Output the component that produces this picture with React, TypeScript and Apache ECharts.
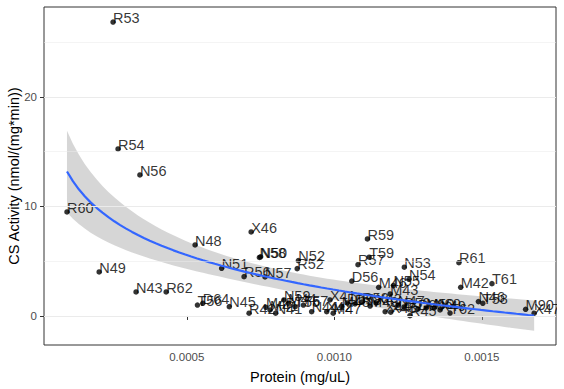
import React, { useEffect, useRef } from "react";
import * as echarts from "echarts";

const sampleIds = [
  "R53", "R54", "N56", "R60", "N48", "X46", "N49", "N43", "R62", "N51",
  "R56", "N57", "N58", "N50", "N52", "R52", "R59", "T59", "R57", "D56",
  "M46", "N55", "N53", "N54", "M43", "R61", "M42", "T61", "T58", "N46",
  "M90", "X47", "T62", "T56", "D64", "N45", "R42", "M45", "M41", "N41",
  "N59", "M44", "T55", "T57", "N44", "X42", "X41", "M47", "M48", "D57",
  "D58", "R58", "M49", "X43", "X44", "X48", "N47", "D59", "R45", "D60",
  "M50", "N60", "X49",
];

const protein = [
  0.000250, 0.000267, 0.000341, 0.000094, 0.000528, 0.000718, 0.000203, 0.000328, 0.000430, 0.000618,
  0.000694, 0.000765, 0.000746, 0.000750, 0.000878, 0.000874, 0.001112, 0.001118, 0.001080, 0.001059,
  0.001150, 0.001200, 0.001237, 0.001253, 0.001189, 0.001422, 0.001428, 0.001534, 0.001503, 0.001488,
  0.001648, 0.001677, 0.001392, 0.000536, 0.000554, 0.000644, 0.000711, 0.000768, 0.000782, 0.000801,
  0.000829, 0.000844, 0.000867, 0.000895, 0.000923, 0.000974, 0.000985, 0.000996, 0.001025, 0.001043,
  0.001070, 0.001094, 0.001121, 0.001141, 0.001172, 0.001191, 0.001216, 0.001236, 0.001256, 0.001283,
  0.001311, 0.001338, 0.001358,
];

const activity = [
  26.83, 15.24, 12.87, 9.49, 6.48, 7.67, 4.02, 2.19, 2.19, 4.35,
  3.59, 3.56, 5.34, 5.40, 5.05, 4.32, 7.03, 5.36, 4.68, 3.19,
  2.62, 2.77, 4.45, 3.35, 2.01, 4.86, 2.62, 2.95, 1.16, 1.31,
  0.61, 0.25, 0.27, 1.00, 1.16, 0.85, 0.25, 0.79, 0.55, 0.25,
  1.46, 1.16, 0.85, 1.00, 0.39, 0.39, 1.46, 0.25, 0.85, 1.19,
  1.10, 1.28, 0.91, 1.19, 0.39, 0.34, 1.00, 0.82, 0.03, 0.64,
  0.73, 0.73, 0.55,
];

const xTickValues = [0.0005, 0.001, 0.0015];
const xMinorGrid = [0.00025, 0.00075, 0.00125];
const yTickValues = [0, 10, 20];
const yMinorGrid = [5, 15, 25];

const xRange = [0.0000161, 0.001751];
const yRange = [-2.65, 28.2];

const FONT = "'Liberation Sans', Arial, Helvetica, sans-serif";

// Linear model y ~ log(x) with 95% confidence band (as geom_smooth does)
function fitLogModel(xs: number[], ys: number[], nOut: number) {
  const n = xs.length;
  const u = xs.map((v) => Math.log(v));
  const uBar = u.reduce((a, b) => a + b, 0) / n;
  const yBar = ys.reduce((a, b) => a + b, 0) / n;
  let sxx = 0;
  let sxy = 0;
  for (let i = 0; i < n; i++) {
    sxx += (u[i] - uBar) ** 2;
    sxy += (u[i] - uBar) * (ys[i] - yBar);
  }
  const b = sxy / sxx;
  const a = yBar - b * uBar;
  let sse = 0;
  for (let i = 0; i < n; i++) sse += (ys[i] - (a + b * u[i])) ** 2;
  const df = n - 2;
  const s = Math.sqrt(sse / df);
  const z = 1.959964;
  const t = z + (z ** 3 + z) / (4 * df) + (5 * z ** 5 + 16 * z ** 3 + 3 * z) / (96 * df * df);
  const xMin = Math.min(...xs);
  const xMax = Math.max(...xs);
  const fx: number[] = [];
  const fy: number[] = [];
  const lo: number[] = [];
  const hi: number[] = [];
  for (let k = 0; k < nOut; k++) {
    const x = xMin + ((xMax - xMin) * k) / (nOut - 1);
    const lu = Math.log(x);
    const yhat = a + b * lu;
    const se = s * Math.sqrt(1 / n + (lu - uBar) ** 2 / sxx);
    fx.push(x);
    fy.push(yhat);
    lo.push(yhat - t * se);
    hi.push(yhat + t * se);
  }
  return { fx, fy, lo, hi };
}

export default function App() {
  const ref = useRef<HTMLDivElement>(null);

  useEffect(() => {
    if (!ref.current) return;
    const chart = echarts.init(ref.current, undefined, { renderer: "svg" });
    const fit = fitLogModel(protein, activity, 80);

    const gridLines: any[] = [];
    xTickValues.forEach((v) => gridLines.push({ xAxis: v, lineStyle: { color: "#EBEBEB", width: 1.1, type: "solid" } }));
    xMinorGrid.forEach((v) => gridLines.push({ xAxis: v, lineStyle: { color: "#EBEBEB", width: 0.55, type: "solid" } }));
    yTickValues.forEach((v) => gridLines.push({ yAxis: v, lineStyle: { color: "#EBEBEB", width: 1.1, type: "solid" } }));
    yMinorGrid.forEach((v) => gridLines.push({ yAxis: v, lineStyle: { color: "#EBEBEB", width: 0.55, type: "solid" } }));

    const points = protein.map((x, i) => ({ value: [x, activity[i]], name: sampleIds[i] }));

    chart.setOption({
      animation: false,
      backgroundColor: "#ffffff",
      textStyle: { fontFamily: FONT },
      grid: {
        left: 44,
        right: 8,
        top: 7,
        bottom: 44,
        containLabel: false,
        outerBoundsMode: "none",
        show: true,
        borderColor: "#333333",
        borderWidth: 1,
        backgroundColor: "transparent",
      },
      graphic: [
        {
          type: "rect",
          left: 557,
          top: 0,
          shape: { x: 0, y: 0, width: 7, height: 389 },
          style: { fill: "#ffffff" },
          z: 100,
          silent: true,
        },
      ],
      xAxis: {
        type: "value",
        min: xRange[0],
        max: xRange[1],
        name: "Protein (mg/uL)",
        nameLocation: "middle",
        nameGap: 24,
        nameTextStyle: { fontSize: 14.5, color: "#000000", fontFamily: FONT },
        axisLine: { show: false },
        splitLine: { show: false },
        axisTick: {
          show: true,
          customValues: xTickValues,
          length: 4,
          lineStyle: { color: "#333333", width: 1 },
        },
        axisLabel: {
          customValues: xTickValues,
          margin: 6,
          fontSize: 11.5,
          color: "#4D4D4D",
          fontFamily: FONT,
          formatter: (v: number) => v.toFixed(4),
        },
      },
      yAxis: {
        type: "value",
        min: yRange[0],
        max: yRange[1],
        name: "CS Activity (nmol/(mg*min))",
        nameLocation: "middle",
        nameGap: 23,
        nameMoveOverlap: false,
        nameTextStyle: { fontSize: 14.5, color: "#000000", fontFamily: FONT },
        axisLine: { show: false },
        splitLine: { show: false },
        axisTick: {
          show: true,
          customValues: yTickValues,
          length: 4,
          lineStyle: { color: "#333333", width: 1 },
        },
        axisLabel: {
          customValues: yTickValues,
          margin: 7,
          fontSize: 11.5,
          color: "#4D4D4D",
          fontFamily: FONT,
        },
      },
      series: [
        {
          type: "line",
          data: [],
          z: 1,
          silent: true,
          markLine: {
            silent: true,
            symbol: "none",
            label: { show: false },
            data: gridLines,
          },
        },
        {
          type: "custom",
          z: 1.5,
          silent: true,
          clip: true,
          data: [[fit.fx[0], fit.fy[0]]],
          renderItem: (params: any, api: any) => {
            const pts: number[][] = [];
            for (let i = 0; i < fit.fx.length; i++) pts.push(api.coord([fit.fx[i], fit.hi[i]]));
            for (let i = fit.fx.length - 1; i >= 0; i--) pts.push(api.coord([fit.fx[i], fit.lo[i]]));
            return {
              type: "polygon",
              shape: { points: pts },
              style: { fill: "rgba(153,153,153,0.4)", stroke: "none" },
            };
          },
        },
        {
          type: "scatter",
          z: 2,
          symbol: "circle",
          symbolSize: 5.5,
          itemStyle: { color: "#000000" },
          data: points,
          label: {
            show: true,
            formatter: (p: any) => p.name,
            position: [2.75, -1.5],
            align: "left",
            verticalAlign: "middle",
            fontSize: 14.5,
            color: "#000000",
            fontFamily: FONT,
          },
          labelLayout: { hideOverlap: false },
        },
        {
          type: "line",
          z: 4,
          silent: true,
          showSymbol: false,
          symbol: "none",
          data: fit.fx.map((x, i) => [x, fit.fy[i]]),
          lineStyle: { color: "#3366FF", width: 2.2 },
        },
      ],
    });

    return () => chart.dispose();
  }, []);

  return (
    <div
      ref={ref}
      style={{ position: "fixed", left: 0, top: 0, width: 564, height: 389, background: "#fff" }}
    />
  );
}
